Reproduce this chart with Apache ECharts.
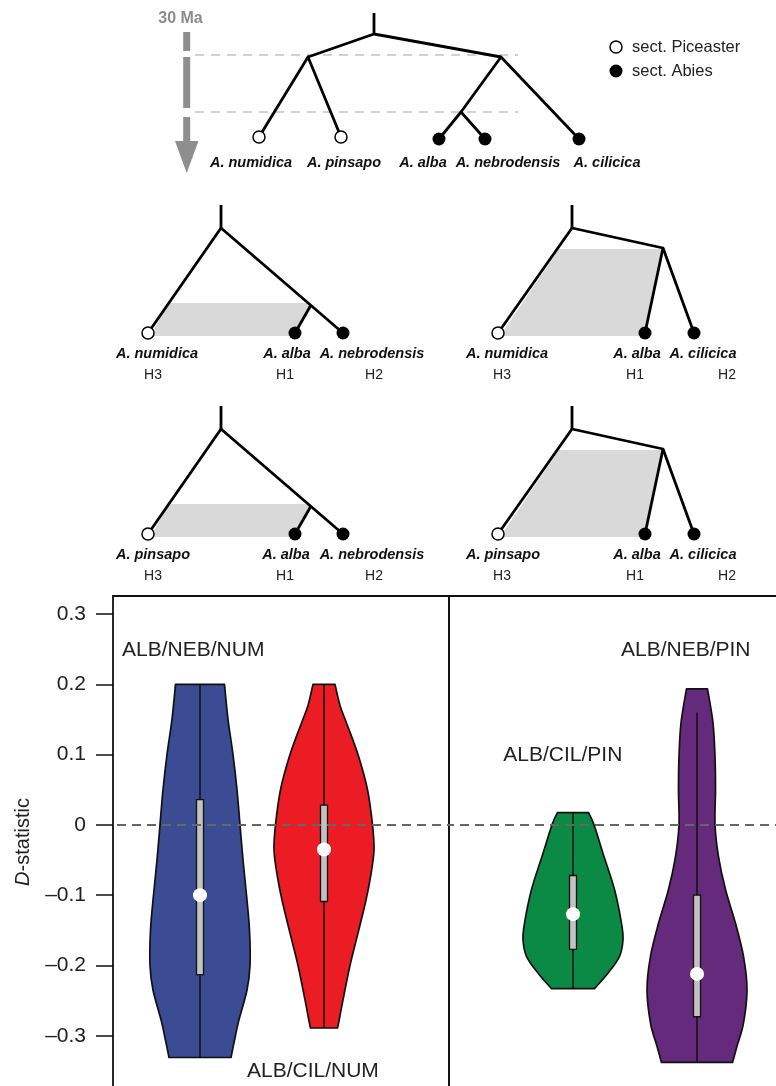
<!DOCTYPE html>
<html><head><meta charset="utf-8">
<script src="https://cdn.jsdelivr.net/npm/echarts@6/dist/echarts.min.js"></script>
<style>html,body{margin:0;padding:0;background:#fff}#c{width:776px;height:1086px}</style>
</head><body><div id="c"></div>
<script>
// ================= DATA =================
// --- Violin plots of D-statistic ---
const violinNames  = ['ALB/NEB/NUM', 'ALB/CIL/NUM', 'ALB/CIL/PIN', 'ALB/NEB/PIN'];
const violinPanel  = [0, 0, 1, 1];      // 0 = left panel, 1 = right panel
const violinSlot   = [1, 2, 1, 2];      // position within its panel
// density outlines: D values and relative density (1 = widest)
const albNebNumY = [0.2, 0.15, 0.1, 0.05, 0, -0.05, -0.1, -0.15, -0.2, -0.235, -0.28, -0.31, -0.331];
const albNebNumD = [0.49, 0.56, 0.66, 0.74, 0.8, 0.86, 0.93, 0.99, 1.0, 0.94, 0.77, 0.68, 0.62];
const albCilNumY = [0.2, 0.17, 0.145, 0.1, 0.05, 0, -0.035, -0.07, -0.107, -0.154, -0.2, -0.249, -0.279, -0.289];
const albCilNumD = [0.22, 0.32, 0.45, 0.68, 0.87, 0.97, 1.0, 0.94, 0.84, 0.68, 0.52, 0.38, 0.3, 0.27];
const albCilPinY = [0.0175, 0, -0.045, -0.092, -0.14, -0.163, -0.187, -0.21, -0.233];
const albCilPinD = [0.31, 0.42, 0.62, 0.83, 0.97, 1.0, 0.93, 0.71, 0.43];
const albNebPinY = [0.1935, 0.145, 0.097, 0.05, 0, -0.045, -0.092, -0.14, -0.187, -0.234, -0.282, -0.315, -0.338];
const albNebPinD = [0.21, 0.32, 0.36, 0.37, 0.36, 0.43, 0.57, 0.77, 0.93, 1.0, 0.93, 0.8, 0.71];
// box statistics: [whiskerLow, q1, median, q3, whiskerHigh]
const albNebNumBox = [-0.331, -0.213, -0.1, 0.036, 0.2];
const albCilNumBox = [-0.289, -0.109, -0.035, 0.028, 0.2];
const albCilPinBox = [-0.233, -0.177, -0.127, -0.072, 0.0175];
const albNebPinBox = [-0.338, -0.273, -0.212, -0.1, 0.16];
// y-axis ticks
const yTickValues = [-0.3, -0.2, -0.1, 0, 0.1, 0.2, 0.3];
const yTickLabels = ['\u20130.3', '\u20130.2', '\u20130.1', '0', '0.1', '0.2', '0.3'];
// annotation anchor (slot units, D value)
const violinLabelAt = [[0.371, 0.249], [1.379, -0.351], [0.438, 0.0986], [1.387, 0.249]];

// --- Phylogeny diagrams (diagram units: x across, y = depth downward) ---
const mainTreeBranches = [
  [[374, 13], [374, 34]],
  [[308, 57], [374, 34], [501, 57]],
  [[259, 137], [308, 57], [341, 137]],
  [[461, 112], [501, 57], [579, 139]],
  [[439, 139], [461, 112], [485, 139]]
];
const mainTipsOpen   = [[259, 137], [341, 137]];
const mainTipsFilled = [[439, 139], [485, 139], [579, 139]];
const mainTaxa    = ['A. numidica', 'A. pinsapo', 'A. alba', 'A. nebrodensis', 'A. cilicica'];
const mainTaxaPos = [[251, 163], [344, 163], [423, 163], [508, 163], [607, 163]];
const timeGuideY  = [55, 112];
const timeGuideX  = [195, 518];
const arrowShaft  = [[32, 51], [57, 108], [117, 141]];
const arrowHead   = [[175, 141], [198.5, 141], [186.7, 173]];

const nebTree = {
  branches: [[[221, 205], [221, 228]], [[148, 333], [221, 228], [343, 333]], [[311, 305], [295, 333]]],
  open: [[148, 333]], filled: [[295, 333], [343, 333]],
  shade: [[169, 303], [311, 303], [293, 336], [150, 336]],
  hX: [153, 285, 374]
};
const cilTree = {
  branches: [[[572, 205], [572, 228]], [[498, 333], [572, 228], [663, 248], [694, 333]], [[663, 248], [645, 333]]],
  open: [[498, 333]], filled: [[645, 333], [694, 333]],
  shade: [[559, 249], [662, 249], [644, 336], [500, 336]],
  hX: [502, 635, 727]
};
const testPanels = [
  { tree: nebTree, dy: 0,   taxa: ['A. numidica', 'A. alba', 'A. nebrodensis'], taxaX: [157, 287, 372] },
  { tree: cilTree, dy: 0,   taxa: ['A. numidica', 'A. alba', 'A. cilicica'],    taxaX: [507, 637, 703] },
  { tree: nebTree, dy: 201, taxa: ['A. pinsapo', 'A. alba', 'A. nebrodensis'],  taxaX: [153, 286, 372] },
  { tree: cilTree, dy: 201, taxa: ['A. pinsapo', 'A. alba', 'A. cilicica'],     taxaX: [503, 637, 703] }
];
const hLabels = ['H3', 'H1', 'H2'];
const legendNames = ['sect. Piceaster', 'sect. Abies'];

// ================= BUILD =================
const FONT = "'Liberation Sans', Arial, Helvetica, sans-serif";
const violinY = [albNebNumY, albCilNumY, albCilPinY, albNebPinY];
const violinD = [albNebNumD, albCilNumD, albCilPinD, albNebPinD];
const violinBox = [albNebNumBox, albCilNumBox, albCilPinBox, albNebPinBox];
const violinColors = ['#3b4b94', '#ec1c24', '#0b8a45', '#652a7b'];
const MAXHALF = 50 / 124;   // slot units
const BOXHALF = 3.5;        // px

const branchData = mainTreeBranches.map(c => ({ coords: c }));
const openTips = mainTipsOpen.slice();
const filledTips = mainTipsFilled.slice();
const shades = [];
const diagramTexts = [];   // [text, x, y, kind]
mainTaxa.forEach((t, i) => diagramTexts.push([t, mainTaxaPos[i][0], mainTaxaPos[i][1], 'taxon']));
testPanels.forEach(p => {
  const sh = pt => [pt[0], pt[1] + p.dy];
  p.tree.branches.forEach(c => branchData.push({ coords: c.map(sh) }));
  p.tree.open.forEach(pt => openTips.push(sh(pt)));
  p.tree.filled.forEach(pt => filledTips.push(sh(pt)));
  shades.push(p.tree.shade.map(sh));
  p.taxa.forEach((t, i) => diagramTexts.push([t, p.taxaX[i], 354 + p.dy, 'taxon']));
  hLabels.forEach((h, i) => diagramTexts.push([h, p.tree.hX[i], 375 + p.dy, 'h']));
});
diagramTexts.push(['30 Ma', 180.5, 19, 'time']);
diagramTexts.push([legendNames[0], 632, 47, 'legend']);
diagramTexts.push([legendNames[1], 632, 71, 'legend']);
openTips.push([616, 47]);
filledTips.push([616, 71]);

const textStyles = {
  taxon:  { fontSize: 14.5, fontWeight: 'bold', fontStyle: 'italic', fill: '#111', align: 'center' },
  h:      { fontSize: 14, fill: '#222', align: 'center' },
  time:   { fontSize: 16, fontWeight: 'bold', fill: '#8c8c8c', align: 'center' },
  legend: { fontSize: 16.5, fill: '#222', align: 'left' }
};

function crPath(pts) {
  let d = '';
  for (let i = 0; i < pts.length - 1; i++) {
    const p0 = pts[i - 1] || pts[i], p1 = pts[i], p2 = pts[i + 1], p3 = pts[i + 2] || pts[i + 1];
    const c1 = [p1[0] + (p2[0] - p0[0]) / 6, p1[1] + (p2[1] - p0[1]) / 6];
    const c2 = [p2[0] - (p3[0] - p1[0]) / 6, p2[1] - (p3[1] - p1[1]) / 6];
    d += ' C' + c1[0] + ',' + c1[1] + ' ' + c2[0] + ',' + c2[1] + ' ' + p2[0] + ',' + p2[1];
  }
  return d;
}

function violinSeries(k) {
  const g = violinPanel[k] + 1;
  return {
    type: 'custom', xAxisIndex: g, yAxisIndex: g, z: 3, silent: true,
    data: [[violinSlot[k], violinBox[k][2]]],
    renderItem: function (params, api) {
      const pos = violinSlot[k];
      const ys = violinY[k], ds = violinD[k], b = violinBox[k];
      const L = ys.map((y, i) => api.coord([pos - ds[i] * MAXHALF, y]));
      const R = ys.map((y, i) => api.coord([pos + ds[i] * MAXHALF, y])).reverse();
      const pathData = 'M' + L[0][0] + ',' + L[0][1] + crPath(L) + ' L' + R[0][0] + ',' + R[0][1] + crPath(R) + ' Z';
      const top = api.coord([pos, b[4]]), bot = api.coord([pos, b[0]]);
      const q3 = api.coord([pos, b[3]]), q1 = api.coord([pos, b[1]]), med = api.coord([pos, b[2]]);
      return {
        type: 'group', children: [
          { type: 'path', shape: { pathData: pathData }, style: { fill: violinColors[k], stroke: '#111', lineWidth: 1.7, lineJoin: 'round' } },
          { type: 'line', shape: { x1: top[0], y1: top[1], x2: bot[0], y2: bot[1] }, style: { stroke: '#111', lineWidth: 1.5 } },
          { type: 'rect', shape: { x: q3[0] - BOXHALF, y: q3[1], width: BOXHALF * 2, height: q1[1] - q3[1] }, style: { fill: '#c2c2c2', stroke: '#111', lineWidth: 1.3 } },
          { type: 'circle', shape: { cx: med[0], cy: med[1], r: 7 }, style: { fill: '#fff' } }
        ]
      };
    }
  };
}

const yMin = -0.4, yMax = 0.3257;
const series = [];
// diagram: shading
series.push({
  type: 'custom', xAxisIndex: 0, yAxisIndex: 0, z: 1, silent: true,
  data: shades.map((s, i) => [i]),
  renderItem: (p, api) => ({ type: 'polygon', shape: { points: shades[p.dataIndex].map(pt => api.coord(pt)) }, style: { fill: '#d9d9d9' } })
});
// dashed time guides
series.push({
  type: 'lines', coordinateSystem: 'cartesian2d', xAxisIndex: 0, yAxisIndex: 0, z: 1, silent: true,
  data: timeGuideY.map(y => ({ coords: [[timeGuideX[0], y], [timeGuideX[1], y]] })),
  lineStyle: { color: '#c4c4c4', width: 1.5, type: [9, 7], opacity: 1 }
});
// time arrow
series.push({
  type: 'custom', xAxisIndex: 0, yAxisIndex: 0, z: 2, silent: true,
  data: [[0]],
  renderItem: (p, api) => {
    const kids = arrowShaft.map(s => {
      const a = api.coord([186.7 - 3.5, s[0]]), b = api.coord([186.7 + 3.5, s[1]]);
      return { type: 'rect', shape: { x: a[0], y: a[1], width: b[0] - a[0], height: b[1] - a[1] }, style: { fill: '#8e8e8e' } };
    });
    kids.push({ type: 'polygon', shape: { points: arrowHead.map(pt => api.coord(pt)) }, style: { fill: '#8e8e8e' } });
    return { type: 'group', children: kids };
  }
});
// branches
series.push({
  type: 'lines', coordinateSystem: 'cartesian2d', xAxisIndex: 0, yAxisIndex: 0, polyline: true, z: 3, silent: true,
  data: branchData,
  lineStyle: { color: '#000', width: 2.8, opacity: 1, join: 'round' }
});
// tips
series.push({
  type: 'scatter', xAxisIndex: 0, yAxisIndex: 0, z: 4, silent: true, symbol: 'circle', symbolSize: 12,
  data: openTips, itemStyle: { color: '#fff', borderColor: '#000', borderWidth: 1.5, opacity: 1 }
});
series.push({
  type: 'scatter', xAxisIndex: 0, yAxisIndex: 0, z: 4, silent: true, symbol: 'circle', symbolSize: 13,
  data: filledTips, itemStyle: { color: '#000', opacity: 1 }
});
// diagram texts
series.push({
  type: 'custom', xAxisIndex: 0, yAxisIndex: 0, z: 5, silent: true,
  data: diagramTexts.map(t => [t[1], t[2]]),
  renderItem: (p, api) => {
    const t = diagramTexts[p.dataIndex];
    const c = api.coord([t[1], t[2]]);
    return { type: 'text', x: c[0], y: c[1], style: Object.assign({ text: t[0], fontFamily: FONT, verticalAlign: 'middle' }, textStyles[t[3]]) };
  }
});
// violins
for (let k = 0; k < 4; k++) series.push(violinSeries(k));
// zero reference line
[1, 2].forEach(g => series.push({
  type: 'line', xAxisIndex: g, yAxisIndex: g, z: 6, silent: true, symbol: 'none',
  data: [[-1, 0], [10, 0]],
  lineStyle: { color: '#666', width: 2, type: [9, 6] }
}));
// violin annotations
[0, 1, 2, 3].forEach(k => {
  const g = violinPanel[k] + 1;
  series.push({
    type: 'custom', xAxisIndex: g, yAxisIndex: g, z: 7, silent: true,
    data: [violinLabelAt[k]],
    renderItem: (p, api) => {
      const c = api.coord(violinLabelAt[k]);
      return { type: 'text', x: c[0], y: c[1], style: { text: violinNames[k], fontFamily: FONT, fontSize: 21, fill: '#222', align: 'left', verticalAlign: 'middle' } };
    }
  });
});

const hiddenX = (g, mn, mx) => ({ gridIndex: g, type: 'value', min: mn, max: mx, show: false });
const option = {
  backgroundColor: '#fff',
  animation: false,
  grid: [
    { left: 0, top: 0, width: 776, height: 590, outerBoundsMode: 'none', containLabel: false },
    { left: 113, top: 596, width: 336, height: 510, show: true, borderColor: '#111', borderWidth: 1.8, backgroundColor: 'transparent', outerBoundsMode: 'none', containLabel: false },
    { left: 449, top: 596, width: 341, height: 510, show: true, borderColor: '#111', borderWidth: 1.8, backgroundColor: 'transparent', outerBoundsMode: 'none', containLabel: false }
  ],
  xAxis: [hiddenX(0, 0, 776), hiddenX(1, 1 - 87 / 124, 1 - 87 / 124 + 336 / 124), hiddenX(2, 0, 341 / 124)],
  yAxis: [
    { gridIndex: 0, type: 'value', min: 0, max: 590, inverse: true, show: false },
    {
      gridIndex: 1, type: 'value', min: yMin, max: yMax,
      axisLine: { show: false },
      axisTick: { show: true, length: 17, customValues: yTickValues, lineStyle: { color: '#111', width: 1.5 } },
      axisLabel: {
        show: true, margin: 27, customValues: yTickValues, fontSize: 21, color: '#222', fontFamily: FONT,
        formatter: v => { const i = yTickValues.findIndex(t => Math.abs(t - v) < 1e-6); return i >= 0 ? yTickLabels[i] : ''; }
      },
      splitLine: { show: false }
    },
    { gridIndex: 2, type: 'value', min: yMin, max: yMax, show: false, splitLine: { show: false } }
  ],
  graphic: [{
    type: 'text', x: 23, y: 842, rotation: Math.PI / 2, silent: true,
    style: { text: '{i|D}-statistic', fontFamily: FONT, fontSize: 20, fill: '#222', align: 'center', verticalAlign: 'middle',
      rich: { i: { fontStyle: 'italic', fontSize: 20, fontFamily: FONT, fill: '#222' } } }
  }],
  series: series
};
const chart = echarts.init(document.getElementById('c'), null, { renderer: 'canvas' });
chart.setOption(option);
</script></body></html>
